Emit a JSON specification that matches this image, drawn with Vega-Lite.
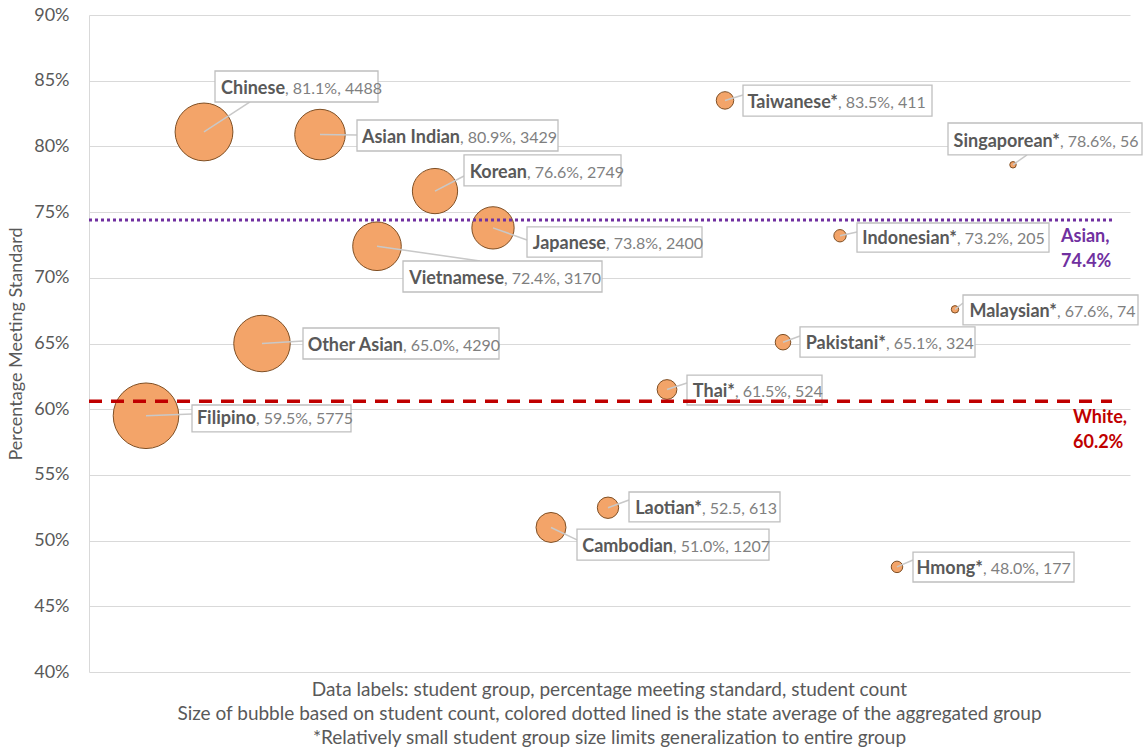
{
  "$schema": "https://vega.github.io/schema/vega-lite/v6.json",
  "width": 1041,
  "height": 657,
  "autosize": {"type": "none"},
  "padding": {"left": 89, "top": 15, "right": 13, "bottom": 76},
  "background": "white",
  "config": {
    "view": {"stroke": null},
    "font": "Lato",
    "axisY": {
      "labelFontSize": 18,
      "labelColor": "#595959",
      "labelFont": "Lato",
      "ticks": false,
      "labelPadding": 20,
      "domain": true,
      "domainColor": "#D9D9D9",
      "grid": true,
      "gridColor": "#D9D9D9",
      "titleFontSize": 18,
      "titleFontWeight": "normal",
      "titleColor": "#595959",
      "titleFont": "Lato",
      "titlePadding": 8
    }
  },
  "title": {
    "text": [
      "Data labels: student group, percentage meeting standard, student count",
      "Size of bubble based on student count, colored dotted lined is the state average of the aggregated group",
      "*Relatively small student group size limits generalization to entire group"
    ],
    "orient": "bottom",
    "anchor": "middle",
    "offset": 0,
    "fontSize": 19,
    "fontWeight": "normal",
    "color": "#595959",
    "lineHeight": 24,
    "font": "Lato"
  },
  "datasets": {
    "groups": [
      {"name": "Chinese", "rest": ", 81.1%, 4488", "pct": 81.1, "count": 4488, "x": 115, "bx1": 126, "bx2": 289, "sx": 196, "by1": 85.74, "by2": 83.38, "lx": 161, "ly": 83.38},
      {"name": "Asian Indian", "rest": ", 80.9%, 3429", "pct": 80.9, "count": 3429, "x": 231, "bx1": 268, "bx2": 469, "sx": 371, "by1": 82.01, "by2": 79.65, "lx": 268, "ly": 80.87},
      {"name": "Korean", "rest": ", 76.6%, 2749", "pct": 76.6, "count": 2749, "x": 346, "bx1": 375, "bx2": 532, "sx": 438, "by1": 79.35, "by2": 76.99, "lx": 375, "ly": 77.75},
      {"name": "Japanese", "rest": ", 73.8%, 2400", "pct": 73.8, "count": 2400, "x": 404, "bx1": 438, "bx2": 613, "sx": 517, "by1": 73.87, "by2": 71.58, "lx": 438, "ly": 72.88},
      {"name": "Vietnamese", "rest": ", 72.4%, 3170", "pct": 72.4, "count": 3170, "x": 288, "bx1": 314, "bx2": 513, "sx": 415, "by1": 71.28, "by2": 68.92, "lx": 391, "ly": 71.28},
      {"name": "Other Asian", "rest": ", 65.0%, 4290", "pct": 65.0, "count": 4290, "x": 173, "bx1": 214, "bx2": 410, "sx": 314, "by1": 66.18, "by2": 63.82, "lx": 214, "ly": 65.19},
      {"name": "Filipino", "rest": ", 59.5%, 5775", "pct": 59.5, "count": 5775, "x": 57, "bx1": 103, "bx2": 262, "sx": 167, "by1": 60.32, "by2": 58.27, "lx": 103, "ly": 59.63},
      {"name": "Taiwanese*", "rest": ", 83.5%, 411", "pct": 83.5, "count": 411, "x": 636, "bx1": 654, "bx2": 843, "sx": 749, "by1": 84.67, "by2": 82.31, "lx": 654, "ly": 83.91},
      {"name": "Singaporean*", "rest": ", 78.6%, 56", "pct": 78.6, "count": 56, "x": 924, "bx1": 859, "bx2": 1053, "sx": 971, "by1": 81.78, "by2": 79.35, "lx": 938, "ly": 79.35},
      {"name": "Indonesian*", "rest": ", 73.2%, 205", "pct": 73.2, "count": 205, "x": 751, "bx1": 768, "bx2": 960, "sx": 868, "by1": 74.17, "by2": 71.96, "lx": 768, "ly": 73.49},
      {"name": "Malaysian*", "rest": ", 67.6%, 74", "pct": 67.6, "count": 74, "x": 866, "bx1": 874, "bx2": 1049, "sx": 968, "by1": 68.69, "by2": 66.41, "lx": 874, "ly": 68.08},
      {"name": "Pakistani*", "rest": ", 65.1%, 324", "pct": 65.1, "count": 324, "x": 694, "bx1": 711, "bx2": 886, "sx": 797, "by1": 66.26, "by2": 63.97, "lx": 711, "ly": 65.57},
      {"name": "Thai*", "rest": ", 61.5%, 524", "pct": 61.5, "count": 524, "x": 578, "bx1": 598, "bx2": 733, "sx": 646, "by1": 62.6, "by2": 60.32, "lx": 598, "ly": 62.0},
      {"name": "Laotian*", "rest": ", 52.5, 613", "pct": 52.5, "count": 613, "x": 519, "bx1": 540, "bx2": 691, "sx": 613, "by1": 53.7, "by2": 51.42, "lx": 540, "ly": 53.09},
      {"name": "Cambodian", "rest": ", 51.0%, 1207", "pct": 51.0, "count": 1207, "x": 462, "bx1": 488, "bx2": 680, "sx": 584, "by1": 50.88, "by2": 48.52, "lx": 488, "ly": 50.05},
      {"name": "Hmong*", "rest": ", 48.0%, 177", "pct": 48.0, "count": 177, "x": 808, "bx1": 824, "bx2": 985, "sx": 894, "by1": 49.13, "by2": 46.85, "lx": 824, "ly": 48.52}
    ],
    "asian": [{"group": "Asian", "value": 74.4, "lineAt": 74.4, "label": "Asian,\n74.4%"}],
    "white": [{"group": "White", "value": 60.2, "lineAt": 60.6, "label": "White,\n60.2%"}]
  },
  "layer": [
    {
      "data": {"name": "groups"},
      "mark": {"type": "circle", "fill": "#F3A469", "stroke": "#7F4F24", "strokeWidth": 1, "opacity": 1},
      "encoding": {
        "x": {"field": "x", "type": "quantitative", "scale": {"domain": [0, 1041], "nice": false, "zero": false}, "axis": null},
        "y": {
          "field": "pct", "type": "quantitative",
          "scale": {"domain": [40, 90], "nice": false, "zero": false},
          "axis": {
            "values": [40, 45, 50, 55, 60, 65, 70, 75, 80, 85, 90],
            "labelExpr": "datum.value + '%'",
            "title": "Percentage Meeting Standard"
          }
        },
        "size": {"field": "count", "type": "quantitative", "scale": {"type": "linear", "domain": [0, 5775], "range": [0, 4301], "zero": true}, "legend": null}
      }
    },
    {
      "data": {"name": "groups"},
      "mark": {"type": "rule", "stroke": "#C8C8C8", "strokeWidth": 1.5},
      "encoding": {
        "x": {"field": "x", "type": "quantitative", "axis": null},
        "y": {"field": "pct", "type": "quantitative"},
        "x2": {"field": "lx"},
        "y2": {"field": "ly"}
      }
    },
    {
      "data": {"name": "groups"},
      "mark": {"type": "rect", "fill": "white", "stroke": "#BFBFBF", "strokeWidth": 1.3},
      "encoding": {
        "x": {"field": "bx1", "type": "quantitative", "axis": null},
        "x2": {"field": "bx2"},
        "y": {"field": "by1", "type": "quantitative"},
        "y2": {"field": "by2"}
      }
    },
    {
      "data": {"name": "groups"},
      "mark": {"type": "text", "align": "right", "baseline": "alphabetic", "dy": -8, "fontSize": 18, "fontWeight": "bold", "fill": "#595959", "font": "Lato"},
      "encoding": {
        "x": {"field": "sx", "type": "quantitative", "axis": null},
        "y": {"field": "by2", "type": "quantitative"},
        "text": {"field": "name"}
      }
    },
    {
      "data": {"name": "groups"},
      "mark": {"type": "text", "align": "left", "baseline": "alphabetic", "dy": -8, "fontSize": 16, "fill": "#7F7F7F", "font": "Lato"},
      "encoding": {
        "x": {"field": "sx", "type": "quantitative", "axis": null},
        "y": {"field": "by2", "type": "quantitative"},
        "text": {"field": "rest"}
      }
    },
    {
      "data": {"name": "asian"},
      "mark": {"type": "rule", "stroke": "#7030A0", "strokeWidth": 3, "strokeDash": [3, 3], "strokeCap": "butt"},
      "encoding": {
        "x": {"datum": 0, "type": "quantitative", "axis": null},
        "x2": {"datum": 1023},
        "y": {"field": "lineAt", "type": "quantitative"}
      }
    },
    {
      "data": {"name": "white"},
      "mark": {"type": "rule", "stroke": "#C00000", "strokeWidth": 3.5, "strokeDash": [13, 9], "strokeCap": "butt"},
      "encoding": {
        "x": {"datum": 0, "type": "quantitative", "axis": null},
        "x2": {"datum": 1023},
        "y": {"field": "lineAt", "type": "quantitative"}
      }
    },
    {
      "data": {"name": "asian"},
      "mark": {"type": "text", "align": "left", "baseline": "top", "dy": 8, "lineBreak": "\n", "lineHeight": 25, "fontSize": 18, "fontWeight": "bold", "fill": "#7030A0", "font": "Lato"},
      "encoding": {
        "x": {"datum": 972, "type": "quantitative", "axis": null},
        "y": {"field": "lineAt", "type": "quantitative"},
        "text": {"field": "label"}
      }
    },
    {
      "data": {"name": "white"},
      "mark": {"type": "text", "align": "left", "baseline": "top", "dy": 8, "lineBreak": "\n", "lineHeight": 25, "fontSize": 18, "fontWeight": "bold", "fill": "#C00000", "font": "Lato"},
      "encoding": {
        "x": {"datum": 984, "type": "quantitative", "axis": null},
        "y": {"field": "lineAt", "type": "quantitative"},
        "text": {"field": "label"}
      }
    }
  ]
}
